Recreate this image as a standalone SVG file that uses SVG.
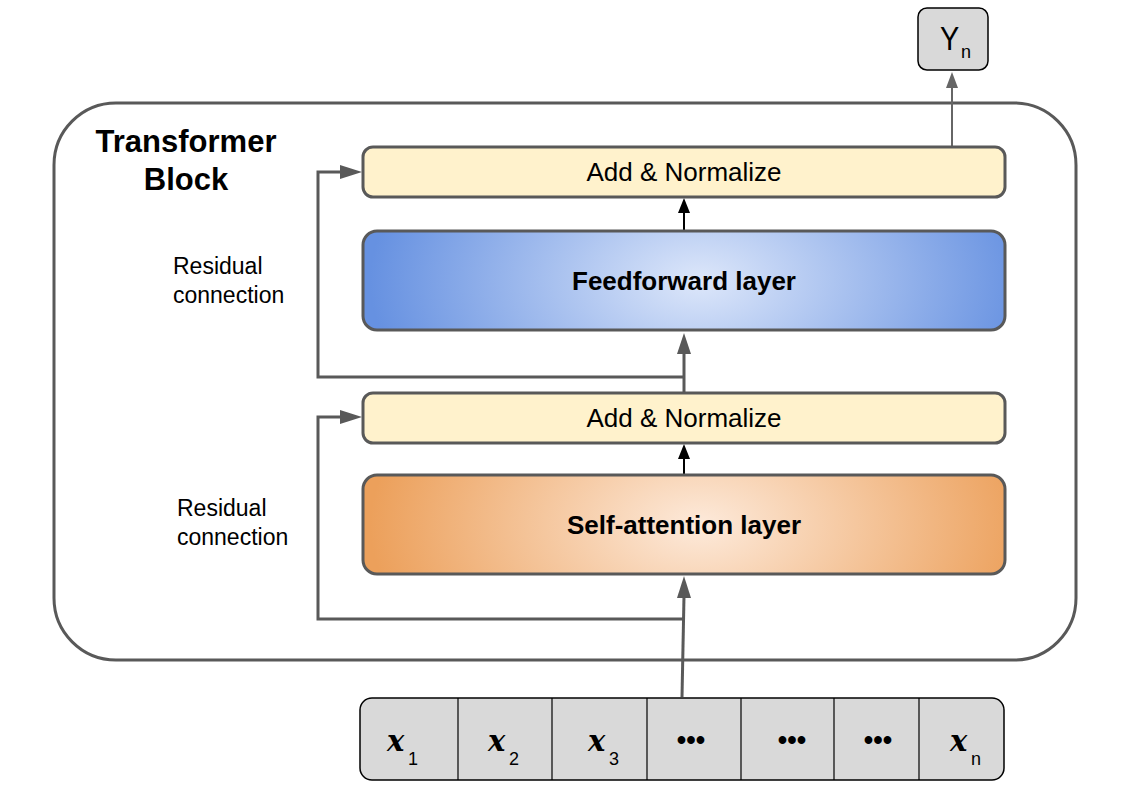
<svg xmlns="http://www.w3.org/2000/svg" width="1121" height="804" viewBox="0 0 1121 804">
<style>
.box{stroke:#595959;stroke-width:3}
.norm{fill:#fff2cc}
.lbl{font-family:"Liberation Sans",Arial,sans-serif;fill:#000}
.conn{fill:none;stroke:#595959;stroke-width:3}
.xv{font-family:"DejaVu Serif","Liberation Serif",serif;font-weight:bold;font-style:italic;font-size:29px}
.sub{font-family:"Liberation Sans",Arial,sans-serif;font-size:18px}
.div{stroke:#000;stroke-width:1.2}
</style>
<defs>
<radialGradient id="gBlue" gradientUnits="userSpaceOnUse" cx="700" cy="281" r="330" gradientTransform="translate(700 281) scale(1 0.6) translate(-700 -281)">
<stop offset="0" stop-color="#dde7fa"/>
<stop offset="1" stop-color="#6691e1"/>
</radialGradient>
<radialGradient id="gOrange" gradientUnits="userSpaceOnUse" cx="700" cy="525" r="330" gradientTransform="translate(700 525) scale(1 0.6) translate(-700 -525)">
<stop offset="0" stop-color="#fdeadb"/>
<stop offset="1" stop-color="#eca05b"/>
</radialGradient>
</defs>

<g id="transformer-block">
<rect x="54" y="103" width="1022" height="557" rx="62" ry="62" fill="#fff" stroke="#595959" stroke-width="3"/>
<text class="lbl" x="186" y="152" font-size="31" font-weight="bold" text-anchor="middle">Transformer</text>
<text class="lbl" x="186" y="190" font-size="31" font-weight="bold" text-anchor="middle">Block</text>
</g>

<g id="label-res1">
<text class="lbl" x="173" y="274" font-size="23">Residual</text>
<text class="lbl" x="173" y="303" font-size="23">connection</text>
</g>
<g id="label-res2">
<text class="lbl" x="177" y="516" font-size="23">Residual</text>
<text class="lbl" x="177" y="545" font-size="23">connection</text>
</g>

<g id="connectors">
<line x1="682" y1="697" x2="684" y2="596" class="conn"/>
<polygon points="684,576 677,598 691,598" fill="#595959"/>
<polyline points="684,619 318,619 318,417 343,417" class="conn"/>
<polygon points="362,417 340,410 340,424" fill="#595959"/>
<line x1="684" y1="474" x2="684" y2="458" stroke="#000" stroke-width="2"/>
<polygon points="684,444 678,459 690,459" fill="#000"/>
<line x1="684" y1="392" x2="684" y2="352" class="conn"/>
<polygon points="684,333 677,354 691,354" fill="#595959"/>
<polyline points="684,377 318,377 318,172 343,172" class="conn"/>
<polygon points="362,172 340,165 340,179" fill="#595959"/>
<line x1="684" y1="230" x2="684" y2="212" stroke="#000" stroke-width="2"/>
<polygon points="684,198 678,213 690,213" fill="#000"/>
<line x1="952" y1="146" x2="952" y2="86" stroke="#666" stroke-width="2"/>
<polygon points="952,72 946,88 958,88" fill="#666"/>
</g>

<g id="add-norm-top">
<rect x="363" y="147" width="642" height="50" rx="10" class="box norm"/>
<text class="lbl" x="684" y="181" font-size="26" text-anchor="middle">Add &amp; Normalize</text>
</g>
<g id="feedforward">
<rect x="363" y="231" width="642" height="99" rx="14" class="box" fill="url(#gBlue)"/>
<text class="lbl" x="684" y="290" font-size="26" font-weight="bold" text-anchor="middle">Feedforward layer</text>
</g>
<g id="add-norm-bottom">
<rect x="363" y="393" width="642" height="50" rx="10" class="box norm"/>
<text class="lbl" x="684" y="427" font-size="26" text-anchor="middle">Add &amp; Normalize</text>
</g>
<g id="self-attention">
<rect x="363" y="475" width="642" height="99" rx="14" class="box" fill="url(#gOrange)"/>
<text class="lbl" x="684" y="534" font-size="26" font-weight="bold" text-anchor="middle">Self-attention layer</text>
</g>

<g id="output-yn">
<rect x="918" y="8" width="70" height="62" rx="9" fill="#d9d9d9" stroke="#000" stroke-width="1.5"/>
<text class="lbl" x="940" y="50" font-size="34" transform="translate(940 50) scale(0.85 1) translate(-940 -50)">Y</text>
<text class="sub" x="961" y="58">n</text>
</g>

<g id="inputs">
<rect x="360" y="698" width="644" height="82" rx="12" fill="#d9d9d9" stroke="#000" stroke-width="1.5"/>
<line x1="458" y1="698" x2="458" y2="780" class="div"/>
<line x1="552" y1="698" x2="552" y2="780" class="div"/>
<line x1="647" y1="698" x2="647" y2="780" class="div"/>
<line x1="741" y1="698" x2="741" y2="780" class="div"/>
<line x1="834" y1="698" x2="834" y2="780" class="div"/>
<line x1="919" y1="698" x2="919" y2="780" class="div"/>
<g id="x1"><text class="xv" x="387" y="751">x</text><text class="sub" x="408" y="765">1</text></g>
<g id="x2"><text class="xv" x="488" y="751">x</text><text class="sub" x="509" y="765">2</text></g>
<g id="x3"><text class="xv" x="588" y="751">x</text><text class="sub" x="609" y="765">3</text></g>
<g id="dots1"><text class="lbl" x="691" y="749" font-size="27" font-weight="bold" text-anchor="middle">•••</text></g>
<g id="dots2"><text class="lbl" x="792" y="749" font-size="27" font-weight="bold" text-anchor="middle">•••</text></g>
<g id="dots3"><text class="lbl" x="878" y="749" font-size="27" font-weight="bold" text-anchor="middle">•••</text></g>
<g id="xn"><text class="xv" x="950" y="751">x</text><text class="sub" x="971" y="765">n</text></g>
</g>
</svg>
